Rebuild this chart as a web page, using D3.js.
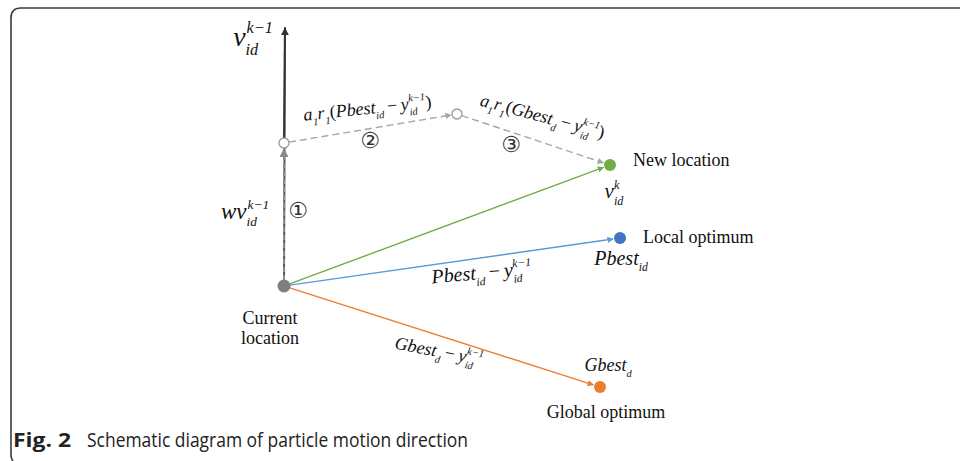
<!DOCTYPE html>
<html><head><meta charset="utf-8">
<script src="https://cdn.jsdelivr.net/npm/d3@7"></script>
<style>
html,body{margin:0;padding:0;background:#fff;}
svg{display:block;}
text{font-family:"Liberation Serif","Times New Roman",serif;fill:#111;white-space:pre;}
</style></head>
<body>
<script>
// ---- data (schematic units, origin = current location) ----
const nodeNames = ["current", "velocityTip", "stepPbest", "stepGbest", "newLocation", "localOptimum", "globalOptimum"];
const nodeX = [0, 1, 0, 173, 326, 336, 316];
const nodeY = [0, 259, 143, 172, 121, 48, -101];
const nodeKind = ["dot", "none", "open", "open", "dot", "dot", "dot"];
const nodeColor = ["#7f7f7f", "none", "#9a9a9a", "#9a9a9a", "#70ad47", "#4472c4", "#ed7d31"];

const edgeFrom = ["current", "stepPbest", "current", "stepPbest", "stepGbest", "current", "current", "current"];
const edgeTo = ["velocityTip", "velocityTip", "stepPbest", "stepGbest", "newLocation", "newLocation", "localOptimum", "globalOptimum"];
const edgeColor = ["#555555", "#333333", "#8a8a8a", "#a6a6a6", "#a6a6a6", "#70ad47", "#5b9bd5", "#ed7d31"];
const edgeDash = [null, null, "5,3", "7,4", "7,4", null, null, null];
const edgeArrow = [false, true, true, true, true, true, true, true];

const placeLabels = ["Current", "location", "New location", "Local optimum", "Global optimum"];
const captionBold = "Fig. 2";
const captionText = "Schematic diagram of particle motion direction";

const W = 960, H = 461;
const x = d3.scaleLinear().domain([0, 336]).range([284, 620]);
const y = d3.scaleLinear().domain([0, 259]).range([286, 27]);
const node = {};
nodeNames.forEach((n, i) => node[n] = {x: x(nodeX[i]), y: y(nodeY[i]), kind: nodeKind[i], color: nodeColor[i]});

const svg = d3.select("body").append("svg").attr("width", W).attr("height", H);

// frame
svg.append("path")
  .attr("d", `M${W},8 L21,8 Q11,8 11,18 L11,455 Q11,459 13,461`)
  .attr("fill", "none").attr("stroke", "#3a3a3a").attr("stroke-width", 1.6);

// markers
const defs = svg.append("defs");
edgeColor.forEach((c, i) => {
  defs.append("marker").attr("id", "ah" + i)
    .attr("viewBox", "0 0 10 10").attr("refX", 9).attr("refY", 5)
    .attr("markerWidth", i === 1 ? 4 : 4.5).attr("markerHeight", i === 1 ? 4 : 4.5)
    .attr("markerUnits", "strokeWidth").attr("orient", "auto")
    .append("path").attr("d", "M0,0 L10,5 L0,10 Z").attr("fill", c);
});

function radius(n) { return n.kind === "dot" ? 6 : n.kind === "open" ? 5 : 0; }

// edges
edgeFrom.forEach((f, i) => {
  const a = node[f], b = node[edgeTo[i]];
  const dx = b.x - a.x, dy = b.y - a.y, L = Math.hypot(dx, dy);
  const r0 = radius(a);
  const r1 = radius(b) + (edgeArrow[i] ? 1 : 0);
  const sw = (i <= 2) ? 2 : 1.4;
  svg.append("line")
    .attr("x1", a.x + dx / L * r0).attr("y1", a.y + dy / L * r0)
    .attr("x2", b.x - dx / L * r1).attr("y2", b.y - dy / L * r1)
    .attr("stroke", edgeColor[i]).attr("stroke-width", sw)
    .attr("stroke-dasharray", edgeDash[i])
    .attr("marker-end", edgeArrow[i] ? `url(#ah${i})` : null);
});

// nodes
nodeNames.forEach(n => {
  const d = node[n];
  if (d.kind === "dot") svg.append("circle").attr("cx", d.x).attr("cy", d.y).attr("r", n === "current" ? 6.5 : 6).attr("fill", d.color);
  if (d.kind === "open") svg.append("circle").attr("cx", d.x).attr("cy", d.y).attr("r", 5).attr("fill", "#fff").attr("stroke", d.color).attr("stroke-width", 1.3);
});

// math label helper
function mathLabel(cx, cy, angle, parts, size) {
  const g = svg.append("g").attr("transform", `translate(${cx},${cy}) rotate(${angle})`);
  const inner = g.append("g");
  let cur = 0;
  parts.forEach(p => {
    const t = inner.append("text").attr("x", cur).attr("y", 0)
      .style("font-size", size + "px").style("font-style", p.up ? "normal" : "italic").text(p.t);
    cur += t.node().getComputedTextLength();
    let w = 0;
    if (p.sub) {
      const s = inner.append("text").attr("x", cur).attr("y", size * 0.32)
        .style("font-size", (size * 0.58) + "px").style("font-style", "italic").text(p.sub);
      w = Math.max(w, s.node().getComputedTextLength());
    }
    if (p.sup) {
      const s = inner.append("text").attr("x", cur + (p.supShift || 0)).attr("y", -size * 0.45)
        .style("font-size", (size * 0.58) + "px").style("font-style", "italic").text(p.sup);
      w = Math.max(w, s.node().getComputedTextLength() + (p.supShift || 0));
    }
    cur += w + (p.after || 0);
  });
  inner.attr("transform", `translate(${-cur / 2},0)`);
}

const MINUS = "\u2009−\u2009";
mathLabel(253, 46, 0, [{t: "v", sub: "id", sup: "k−1", supShift: 1}], 28);
mathLabel(245, 219, 0, [{t: "wv", sub: "id", sup: "k−1", supShift: 1}], 23);
mathLabel(368, 114, -6, [{t: "a", sub: "1"}, {t: "r", sub: "1"}, {t: "(", up: true}, {t: "Pbest", sub: "id"}, {t: MINUS, up: true}, {t: "y", sub: "id", sup: "k−1"}, {t: ")", up: true}], 18);
mathLabel(541, 122, 15, [{t: "a", sub: "1"}, {t: "r", sub: "1"}, {t: "(", up: true}, {t: "Gbest", sub: "d"}, {t: MINUS, up: true}, {t: "y", sub: "id", sup: "k−1"}, {t: ")", up: true}], 18);
mathLabel(614, 198, 0, [{t: "v", sub: "id", sup: "k"}], 21);
mathLabel(621, 265, 0, [{t: "Pbest", sub: "id"}], 20);
mathLabel(482, 279, -5, [{t: "Pbest", sub: "id"}, {t: MINUS, up: true}, {t: "y", sub: "id", sup: "k−1"}], 20);
mathLabel(438, 357, 11, [{t: "Gbest", sub: "d"}, {t: MINUS, up: true}, {t: "y", sub: "id", sup: "k−1"}], 18);
mathLabel(608, 371, 0, [{t: "Gbest", sub: "d"}], 18);

// circled step numbers
const stepLabels = ["①", "②", "③"];
const stepX = [298, 370, 511], stepY = [218, 148, 152];
stepLabels.forEach((s, i) => svg.append("text").attr("x", stepX[i]).attr("y", stepY[i])
  .attr("text-anchor", "middle").style("font-size", "22px").style("font-family", "DejaVu Sans").style("fill", "#333").text(s));

// place labels
const plX = [270, 270, 633, 643, 606], plY = [324, 344, 166, 243, 418];
const plAnchor = ["middle", "middle", "start", "start", "middle"];
placeLabels.forEach((s, i) => svg.append("text").attr("x", plX[i]).attr("y", plY[i])
  .attr("text-anchor", plAnchor[i]).style("font-size", "18px").text(s));

// caption
const capStyle = s => s.style("font-family", "'Open Sans','Noto Sans',sans-serif").style("font-size", "19.5px").style("fill", "#222");
capStyle(svg.append("text").attr("x", 13).attr("y", 447).attr("textLength", 58).attr("lengthAdjust", "spacingAndGlyphs")
  .style("font-weight", "bold").text(captionBold));
capStyle(svg.append("text").attr("x", 87).attr("y", 447).attr("textLength", 381).attr("lengthAdjust", "spacingAndGlyphs")
  .text(captionText));
</script>
</body></html>
